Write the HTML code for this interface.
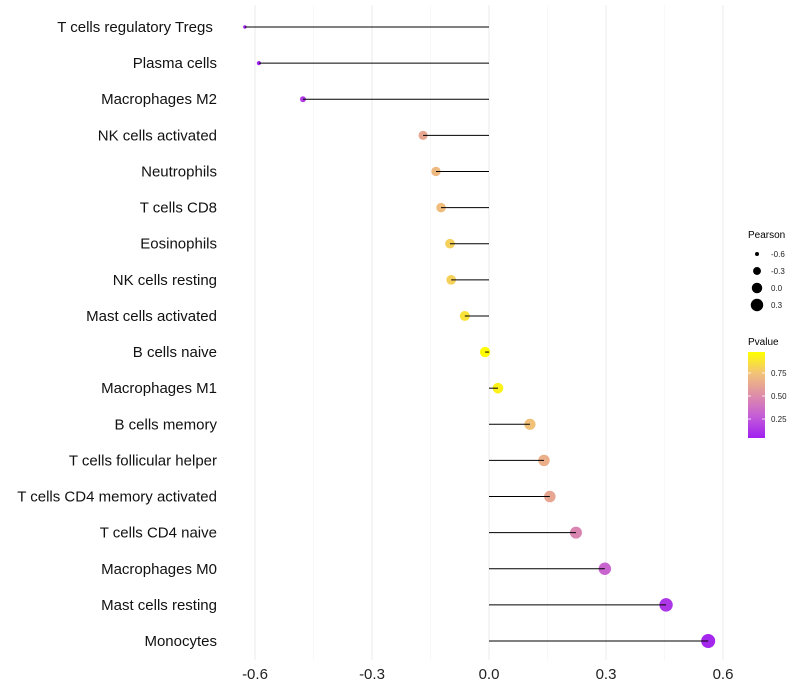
<!DOCTYPE html>
<html><head><meta charset="utf-8"><style>
body{margin:0;background:#fff;font-family:"Liberation Sans",sans-serif}
svg{display:block}
</style></head><body>
<svg id="chart" width="800" height="700" xmlns="http://www.w3.org/2000/svg">
<defs><linearGradient id="pg" x1="0" y1="1" x2="0" y2="0">
<stop offset="0" stop-color="#A020F0"/><stop offset="0.25" stop-color="#C45CD8"/><stop offset="0.5" stop-color="#DE8EA8"/><stop offset="0.75" stop-color="#F2C278"/><stop offset="1" stop-color="#FFFF00"/></linearGradient></defs>
<g id="grid"></g><g id="points"></g><g id="marks"></g><g id="labels"></g><g id="legend"></g>
</svg>
<script>
const categories=["T cells regulatory  Tregs\u00a0","Plasma cells","Macrophages M2","NK cells activated","Neutrophils","T cells CD8","Eosinophils","NK cells resting","Mast cells activated","B cells naive","Macrophages M1","B cells memory","T cells follicular helper","T cells CD4 memory activated","T cells CD4 naive","Macrophages M0","Mast cells resting","Monocytes"];
const pearson=[-0.626,-0.59,-0.477,-0.169,-0.136,-0.123,-0.1,-0.097,-0.062,-0.01,0.023,0.105,0.141,0.156,0.223,0.297,0.454,0.562];
const pvalues=[0.05,0.07,0.15,0.62,0.7,0.72,0.8,0.8,0.87,0.97,0.93,0.74,0.66,0.62,0.47,0.32,0.13,0.07];
const xTicks=[-0.6,-0.3,0.0,0.3,0.6];
const xTickLabels=["-0.6","-0.3","0.0","0.3","0.6"];
const sizeLegend=[-0.6,-0.3,0.0,0.3];
const pTicks=[0.25,0.5,0.75];
const NS="http://www.w3.org/2000/svg";
function X(v){return 489+v*390;}
function Y(i){return 27+i*(614/17);}
function R(v){return Math.sqrt(Math.max(1.5,4+38.8*(v+0.6)));}
const stops=[[0,[160,32,240]],[0.25,[196,92,216]],[0.5,[222,142,168]],[0.75,[242,194,120]],[1,[255,255,0]]];
function col(p){let t=(p-0.044)/(0.978-0.044);t=Math.max(0,Math.min(1,t));
for(let k=1;k<stops.length;k++){if(t<=stops[k][0]){const a=stops[k-1],b=stops[k];const f=(t-a[0])/(b[0]-a[0]);
return "rgb("+a[1].map((c,j)=>Math.round(c+(b[1][j]-c)*f)).join(",")+")";}}return "rgb(255,255,0)";}
function PY(p){return 352+(0.978-p)/(0.978-0.044)*86;}
function mk(tag,at,parent,text){const e=document.createElementNS(NS,tag);for(const k in at)e.setAttribute(k,at[k]);if(text!==undefined)e.textContent=text;document.getElementById(parent).appendChild(e);return e;}
for(let i=0;i<xTicks.length;i++){
 const g=mk("line",{x1:X(xTicks[i]),x2:X(xTicks[i]),y1:5,y2:660,stroke:"#ebebeb","stroke-width":1},"grid");
 
 
 if(i<xTicks.length-1){const m=mk("line",{x1:X((xTicks[i]+xTicks[i+1])/2),x2:X((xTicks[i]+xTicks[i+1])/2),y1:5,y2:660,stroke:"#f3f3f3","stroke-width":0.6},"grid");
 
 }
 const t=mk("text",{x:X(xTicks[i]),y:679,"text-anchor":"middle","font-size":15,fill:"#222"},"labels",xTickLabels[i]);
 
 
}
for(let i=0;i<categories.length;i++){
 const y=Y(i);
 const c=mk("circle",{cx:X(pearson[i]),cy:y,r:R(pearson[i]),fill:col(pvalues[i])},"points");
 
 
 const l=mk("line",{x1:X(0),x2:X(pearson[i]),y1:y,y2:y,stroke:"#000","stroke-width":1},"marks");
 
 
 const t=mk("text",{x:217,y:y+5,"text-anchor":"end","font-size":15,fill:"#111"},"labels",categories[i]);
 
 
 t.setAttribute('xml:space','preserve');
}
let lt=mk("text",{x:748,y:238,"font-size":10,fill:"#000"},"legend","Pearson");


sizeLegend.forEach((v,k)=>{const y=254+k*17;
 const c=mk("circle",{cx:757,cy:y,r:R(v),fill:"#000"},"legend");
 
 
 const t=mk("text",{x:771,y:y+3,"font-size":8,fill:"#222"},"legend",v.toFixed(1));
 
 
});
lt=mk("text",{x:748,y:345,"font-size":10,fill:"#000"},"legend","Pvalue");


const bar=mk("rect",{x:748,y:352,width:17,height:86,fill:"url(#pg)"},"legend");


pTicks.forEach(p=>{const y=PY(p);
 mk("line",{x1:748,x2:751,y1:y,y2:y,stroke:"#fff","stroke-width":0.8},"legend");
 mk("line",{x1:762,x2:765,y1:y,y2:y,stroke:"#fff","stroke-width":0.8},"legend");
 const t=mk("text",{x:771,y:y+3,"font-size":8,fill:"#222"},"legend",p.toFixed(2));
 
 
});
</script>
</body></html>
